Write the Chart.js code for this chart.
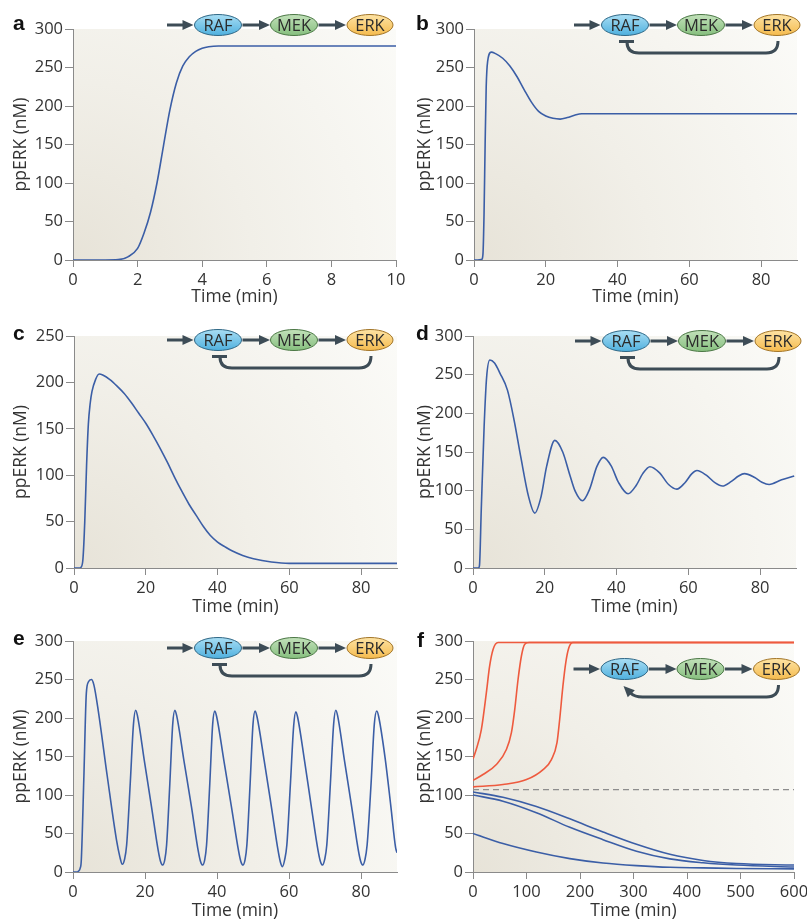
<!DOCTYPE html>
<html><head><meta charset="utf-8">
<script src="https://cdn.jsdelivr.net/npm/chart.js@4.4.1/dist/chart.umd.min.js"></script>
<style>
html,body{margin:0;padding:0;background:#fff;}
#wrap{position:relative;width:807px;height:922px;overflow:hidden;background:#fff;}
canvas{position:absolute;}
#diag{position:absolute;left:0;top:0;pointer-events:none;}
</style></head><body>
<div id="wrap">
<canvas id="ca" width="414" height="310" style="left:0;top:0"></canvas>
<canvas id="cb" width="403" height="310" style="left:404px;top:0"></canvas>
<canvas id="cc" width="404" height="310" style="left:0;top:310px"></canvas>
<canvas id="cd" width="403" height="310" style="left:404px;top:310px"></canvas>
<canvas id="ce" width="404" height="302" style="left:0;top:620px"></canvas>
<canvas id="cf" width="403" height="302" style="left:404px;top:620px"></canvas>
<svg id="diag" width="807" height="922" xmlns="http://www.w3.org/2000/svg"></svg>
</div>
<script>
// ---------- text ----------
const xTitle = 'Time (min)';
const yTitle = 'ppERK (nM)';
const panelLetters = ['a','b','c','d','e','f'];
const nodeLabels = ['RAF','MEK','ERK'];

// ---------- panel a ----------
const timeA = [0,1,1.4,1.7,2,2.2,2.4,2.6,2.8,3,3.2,3.4,3.6,3.8,4,4.2,4.5,5,6,8,10];
const erkA  = [0,0,0.5,4,15,35,62,100,148,195,230,252,264,271,275,277,278,278,278,278,278];

// ---------- panel b ----------
const timeB = [0,1,2,2.2,2.5,2.8,3.1,3.4,3.8,4.8,6,8,10,12,14,16,18,20,22,24,26,28,30,40,60,90];
const erkB  = [0,0,0.5,1,8,60,150,225,258,270,268,262,252,238,221,205,193,187,184,183,185,188,190,190,190,190];

// ---------- panel c ----------
const timeC = [0,1.5,2,2.5,3,3.5,4,4.5,5,6,7,8,10,12,14,16,18,20,22,24,26,28,30,32,34,36,38,40,42,44,47,50,55,60,70,90];
const erkC  = [0,0,1,10,50,110,155,177,190,203,209,208,203,196,188,178,167,156,143,129,114,98,83,69,57,45,35,28,23,18.5,13.5,10,6.5,5,5,5];

// ---------- panel d ----------
const timeD = [0,1.5,1.8,2.3,3.1,3.8,4.7,6,7.5,9.6,11.5,13.3,15.5,17.2,19,20.5,22.8,25,27,28.5,30.5,32.5,34.5,36.3,38.5,40.5,43.2,45.5,47.3,49.3,52,54.5,56.8,59,61,62.4,65,67.5,69.5,72,74,75.6,78.5,80.5,82.5,86,89.5];
const erkD  = [0,0,3,75,183,247,269,265,252,230,190,144,92,71,93,131,165,150,120,99,87,102,131,143,132,111,96,107,122,131,123,108,102,110,122,126,120,110,106,112,119,122,117,111,108,114,119];

// ---------- panel e ----------
const timeE = [0,1,1.5,2,2.3,3,3.7,4.3,5.1,5.8,7.0,9.5,12.1,13.0,13.7,
  14.3,14.9,15.9,16.8,17.4, 17.9,19.8,21.8,23.7,24.3,24.9,
  25.5,26.0,26.9,27.7,28.3, 28.8,30.8,32.9,34.8,35.4,36.0,
  36.6,37.1,38.0,38.8,39.4, 39.9,41.9,44.0,46.0,46.6,47.2,
  47.8,48.3,49.2,50.0,50.6, 51.1,53.1,55.1,57.0,57.6,58.2,
  58.8,59.4,60.4,61.3,61.9, 62.4,64.3,66.2,68.1,68.7,69.3,
  69.9,70.5,71.5,72.4,73.0, 73.5,75.4,77.4,79.3,79.9,80.5,
  81.1,81.7,82.8,83.7,84.4, 84.9,86.7,88.3,89.6,90];
const erkE  = [0,0,1,5,15,120,232,247,250,243,210,125,41,20,10,
  16,35,115,192,210, 203,145,85,27,14,9,
  16,35,115,192,210, 203,145,85,27,14,9,
  16,35,115,192,209, 202,145,85,27,14,9,
  16,35,115,192,209, 202,145,85,27,13,7,
  16,35,115,190,208, 201,145,85,27,14,9,
  16,35,115,192,210, 203,145,85,27,14,9,
  16,35,115,192,209, 202,148,85,32,25];

// ---------- panel f ----------
const timeF1 = [0,6,15.6,25,31,37.5,46.8,55,600];
const erkF1  = [147,159,185,233,267,289,298,298,298];
const timeF2 = [0,18.7,43.7,62.4,71.8,78,84.2,90.5,96.7,105,600];
const erkF2  = [119,126.6,139.6,159,181,211,250,280.5,295.7,298,298];
const timeF3 = [0,56,100,131,146.6,157,162,168,173.4,179,187,600];
const erkF3  = [110.5,113.6,120,133,146,168,198,241,272,291,298,298];
const timeFB = [0,56,118.5,181,243,305.6,368,430,492.6,600];
const erkFB1 = [104,97,85,69,52,36,23,15,11,9];
const erkFB2 = [100,92,77,58,42,27,17,12,9,6.5];
const erkFB3 = [50,37,26,17.4,11.7,8.3,6.1,5.4,4.5,4];
const thresholdTime = [0,600];
const thresholdF = [107,107];

// ---------- styling ----------
const BLUE = '#3b5ea6', RED = '#ee5a3e', AXIS = '#8a8a8a', TXT = '#333';
Chart.defaults.font.family = "'Open Sans', 'Noto Sans', sans-serif";
Chart.defaults.color = TXT;

const pts = (xs, ys) => xs.map((x, i) => ({x: x, y: ys[i]}));

const bgPlugin = {
  id: 'bg',
  beforeDraw(chart) {
    const {ctx, chartArea: {left, top, right, bottom}} = chart;
    ctx.save();
    const r = Math.hypot(right - left, bottom - top);
    const g = ctx.createRadialGradient(left, bottom, 0, left, bottom, r);
    g.addColorStop(0, '#e7e3d8');
    g.addColorStop(0.45, '#f1efe8');
    g.addColorStop(1, '#fbfbf8');
    ctx.fillStyle = g;
    ctx.fillRect(left, top, right - left, bottom - top);
    ctx.restore();
  }
};

function line(xs, ys, color, extra) {
  return Object.assign({data: pts(xs, ys), borderColor: color, borderWidth: 1.6, pointRadius: 0,
    cubicInterpolationMode: 'monotone', fill: false}, extra || {});
}

function makeChart(id, box, area, xMax, xStep, yMax, datasets, titleBottomPad) {
  const [cl, ct, cw, chh] = box;
  const [L, T, R, B] = area;
  const yw = L - cl, xh = ct + chh - B;
  new Chart(document.getElementById(id), {
    type: 'line',
    data: {datasets: datasets},
    options: {
      responsive: false, animation: false, events: [],
      layout: {padding: {left: 0, top: T - ct, right: cl + cw - R, bottom: 0}},
      plugins: {legend: {display: false}, tooltip: {enabled: false}},
      scales: {
        x: {
          type: 'linear', min: 0, max: xMax,
          ticks: {stepSize: xStep, includeBounds: false, font: {size: 16.5}, color: TXT, padding: 3, maxRotation: 0},
          grid: {drawOnChartArea: false, drawTicks: true, tickLength: 7, color: AXIS},
          border: {display: true, color: AXIS, width: 1},
          title: {display: true, text: xTitle, font: {size: 17.5}, color: TXT, padding: {top: 0, bottom: titleBottomPad}},
          afterFit(s) { s.height = xh; s.paddingLeft = 0; s.paddingRight = 0; }
        },
        y: {
          type: 'linear', min: 0, max: yMax,
          ticks: {stepSize: 50, font: {size: 16.5}, color: TXT, padding: 2},
          grid: {drawOnChartArea: false, drawTicks: true, tickLength: 8, color: AXIS},
          border: {display: true, color: AXIS, width: 1},
          title: {display: true, text: yTitle, font: {size: 17.5}, color: TXT, padding: {top: 11, bottom: 0}},
          afterFit(s) { s.width = yw; s.paddingTop = 0; s.paddingBottom = 0; }
        }
      }
    },
    plugins: [bgPlugin]
  });
}

makeChart('ca', [0,0,414,310], [73,29,396,260], 10, 2, 300, [line(timeA, erkA, BLUE)], 2);
makeChart('cb', [404,0,403,310], [474,29,797,260], 90, 20, 300, [line(timeB, erkB, BLUE)], 2);
makeChart('cc', [0,310,404,310], [74,336,397,568], 90, 20, 250, [line(timeC, erkC, BLUE)], 2);
makeChart('cd', [404,310,403,310], [473,336,796,568], 90, 20, 300, [line(timeD, erkD, BLUE)], 2);
makeChart('ce', [0,620,404,302], [73,641,397,872], 90, 20, 300, [line(timeE, erkE, BLUE)], 0);
makeChart('cf', [404,620,403,302], [473,641,794,872], 600, 100, 300, [
  line(thresholdTime, thresholdF, '#8d8d8d', {borderWidth: 1.2, borderDash: [6, 4], cubicInterpolationMode: 'default', tension: 0}),
  line(timeF1, erkF1, RED), line(timeF2, erkF2, RED), line(timeF3, erkF3, RED),
  line(timeFB, erkFB1, BLUE), line(timeFB, erkFB2, BLUE), line(timeFB, erkFB3, BLUE)
], 0);

// ---------- pathway diagrams (SVG) ----------
const svg = document.getElementById('diag');
const NS = 'http://www.w3.org/2000/svg';
function el(tag, attrs, parent) {
  const e = document.createElementNS(NS, tag);
  for (const k in attrs) e.setAttribute(k, attrs[k]);
  (parent || svg).appendChild(e);
  return e;
}
const defs = el('defs', {});
function grad(id, c1, c2) {
  const g = el('linearGradient', {id: id, x1: 0, y1: 0, x2: 0, y2: 1}, defs);
  el('stop', {offset: '0', 'stop-color': c1}, g);
  el('stop', {offset: '1', 'stop-color': c2}, g);
}
grad('gRAF', '#a9def4', '#4fb0de');
grad('gMEK', '#c2e1ba', '#86bf7e');
grad('gERK', '#fde3a4', '#f5bb4e');
const nodeFill = ['url(#gRAF)', 'url(#gMEK)', 'url(#gERK)'];
const nodeStroke = ['#2f6785', '#4b7745', '#a27528'];
const DARK = '#3d4c56';

function arrowH(x1, x2, y) {
  el('line', {x1: x1, y1: y, x2: x2 - 9, y2: y, stroke: DARK, 'stroke-width': 3});
  el('polygon', {points: `${x2},${y} ${x2 - 11},${y - 5} ${x2 - 11},${y + 5}`, fill: DARK});
}

function diagram(rx, ry, fb) {
  arrowH(rx - 51, rx - 24.5, ry);
  arrowH(rx + 24.5, rx + 52, ry);
  arrowH(rx + 100.5, rx + 128, ry);
  [0, 76, 152].forEach((dx, i) => {
    el('ellipse', {cx: rx + dx, cy: ry, rx: i === 2 ? 23 : 23.5, ry: 10.5, fill: nodeFill[i], stroke: nodeStroke[i], 'stroke-width': 1});
    const t = el('text', {x: rx + dx, y: ry + 6, 'text-anchor': 'middle', 'font-family': "'Open Sans', sans-serif",
      'font-size': 16.5, fill: '#2b2b2b'});
    t.textContent = nodeLabels[i];
  });
  if (fb === 'inhibit') {
    el('path', {d: `M ${rx + 2} ${ry + 17} Q ${rx + 2} ${ry + 28} ${rx + 14} ${ry + 28} L ${rx + 141} ${ry + 28} Q ${rx + 153} ${ry + 28} ${rx + 153} ${ry + 16}`,
      fill: 'none', stroke: DARK, 'stroke-width': 3});
    el('line', {x1: rx - 6, y1: ry + 16.5, x2: rx + 9, y2: ry + 16.5, stroke: DARK, 'stroke-width': 3});
  } else if (fb === 'activate') {
    el('path', {d: `M ${rx + 154} ${ry + 16} Q ${rx + 154} ${ry + 28} ${rx + 142} ${ry + 28} L ${rx + 18} ${ry + 28} Q ${rx + 10} ${ry + 28} ${rx + 6} ${ry + 24}`,
      fill: 'none', stroke: DARK, 'stroke-width': 3});
    const tx = rx - 1, ty = ry + 17;
    const d = Math.SQRT1_2;
    const bx = tx + 11 * d, by = ty + 11 * d;
    const nx = 5 * d, ny = -5 * d;
    el('polygon', {points: `${tx},${ty} ${bx + nx},${by + ny} ${bx - nx},${by - ny}`, fill: DARK});
  }
}
diagram(218, 25, 'none');
diagram(625, 25, 'inhibit');
diagram(218, 340, 'inhibit');
diagram(626, 341, 'inhibit');
diagram(218, 648, 'inhibit');
diagram(624.5, 669, 'activate');

// ---------- panel letters ----------
const letterPos = [[13, 30], [416, 30], [13, 340], [416, 340], [13, 645], [417, 647]];
panelLetters.forEach((L, i) => {
  const t = el('text', {x: letterPos[i][0], y: letterPos[i][1], 'font-family': "'Liberation Sans', Arial, sans-serif",
    'font-weight': 'bold', 'font-size': 21, fill: '#111'});
  t.textContent = L;
});
</script>
</body></html>
